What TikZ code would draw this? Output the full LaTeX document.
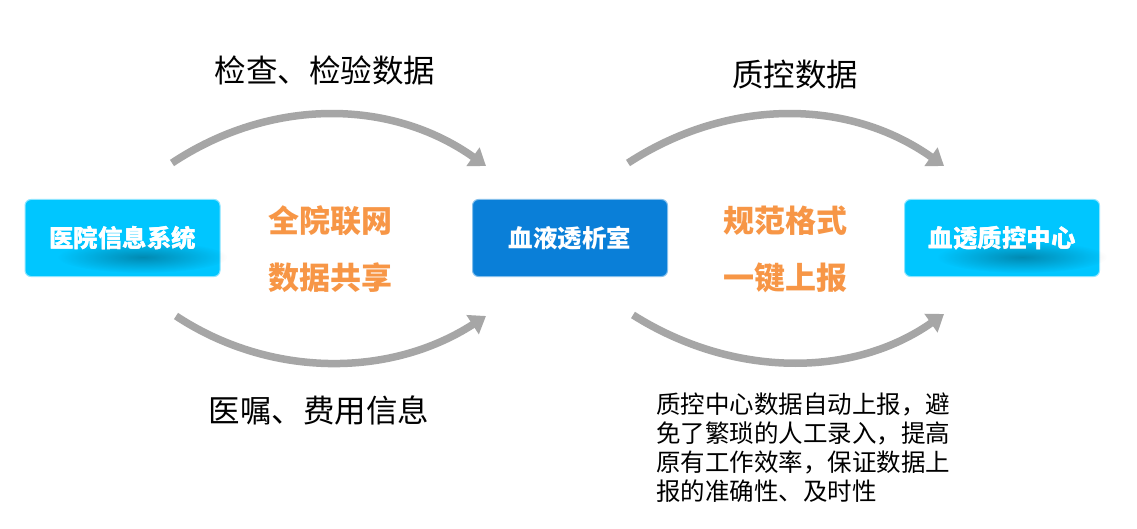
\documentclass[tikz,border=0pt]{standalone}
\usepackage{fontspec}
\newfontfamily\cjk{Noto Sans CJK SC}
\usetikzlibrary{arrows.meta,positioning,fadings}
\definecolor{Sky}{HTML}{00C6FF}
\definecolor{Royal}{HTML}{0A7FD8}
\definecolor{Peach}{HTML}{F79646}
\definecolor{ArcGray}{HTML}{A6A6A6}
\tikzfading[name=softspot, inner color=transparent!0, outer color=transparent!100]
\tikzset{
  sysbox/.style={rounded corners=6pt, fill=Sky, draw=Sky!45, line width=1pt, minimum width=195pt, minimum height=77pt, text=white, font=\cjk\bfseries\fontsize{24.5}{27}\selectfont},
  roombox/.style={sysbox, fill=Royal, draw=Royal!50},
  flowarc/.style={-{Triangle[length=16pt,width=22pt]}, line width=7.5pt, draw=ArcGray},
  toplabel/.style={font=\cjk\fontsize{31.5}{35}\selectfont, text=black},
  gain/.style={font=\cjk\bfseries\fontsize{31}{57}\selectfont, text=Peach, align=center},
  note/.style={font=\cjk\fontsize{24.5}{29}\selectfont, align=left, inner sep=0pt, anchor=north west}
}
\begin{document}
\begin{tikzpicture}[x=1pt,y=-1pt]
\useasboundingbox[fill=white] (0,0) rectangle (1137,529);
% boxes
\node[sysbox] (his) at (122.5,238) {医院信息系统};
\node[roombox] (room) at (570,238) {血液透析室};
\node[sysbox] (qc) at (1002,238) {血透质控中心};
% soft inner shade
\foreach \n in {his,qc}
  \fill[black, opacity=0.3, path fading=softspot] ([xshift=20pt,yshift=-19pt]\n.center) ellipse (85pt and 16pt);
\node[sysbox, fill=none, draw=none] at (his) {医院信息系统};
\node[sysbox, fill=none, draw=none] at (qc) {血透质控中心};
% arc ends
\coordinate (tl1) at (172,163); \coordinate (tl2) at (486,166);
\coordinate (bl1) at (176,316); \coordinate (bl2) at (486,316);
\coordinate (tr1) at (628,163); \coordinate (tr2) at (944,166);
\coordinate (br1) at (633,315); \coordinate (br2) at (944,314);
\draw[flowarc] (tl1) .. controls (270,98) and (390,98) .. (tl2);
\draw[flowarc] (bl1) .. controls (270,378) and (390,378) .. (bl2);
\draw[flowarc] (tr1) .. controls (728,98) and (848,98) .. (tr2);
\draw[flowarc] (br1) .. controls (733,378) and (853,378) .. (br2);
% labels
\node[toplabel] (lab1) at (325,70) {检查、检验数据};
\node[toplabel] (lab2) at (795,75) {质控数据};
\node[toplabel] (lab3) at (319,410) {医嘱、费用信息};
\node[gain] (g1) at (330,249) {全院联网\\数据共享};
\node[gain] (g2) at (785,249) {规范格式\\一键上报};
\node[note] (txt) at (656,393) {质控中心数据自动上报，避\\免了繁琐的人工录入，提高\\原有工作效率，保证数据上\\报的准确性、及时性};
\end{tikzpicture}
\end{document}
